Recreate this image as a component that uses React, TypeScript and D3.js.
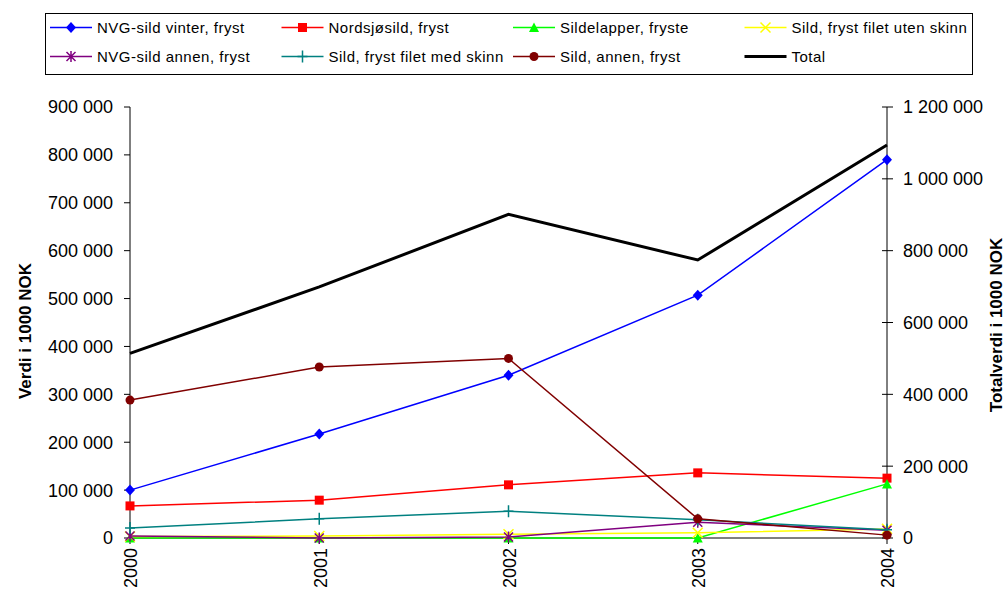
import React from 'react';
import * as d3 from 'd3';

const years = ['2000', '2001', '2002', '2003', '2004'];

const nvgVinter = [100000, 217000, 340000, 507000, 790000];
const nordsjo = [67000, 79000, 111000, 136000, 125000];
const sildelapper = [0, 0, 0, 0, 113000];
const filetUten = [3000, 4000, 8000, 11000, 19000];
const nvgAnnen = [4000, 0, 2000, 33000, 16000];
const filetMed = [21000, 40000, 56000, 38000, 17000];
const sildAnnen = [288000, 357000, 375000, 40000, 6000];
const total = [514000, 699000, 901000, 774000, 1094000];

const leftTicks = [0, 100000, 200000, 300000, 400000, 500000, 600000, 700000, 800000, 900000];
const rightTicks = [0, 200000, 400000, 600000, 800000, 1000000, 1200000];

type Marker = 'diamond' | 'square' | 'triangle' | 'x' | 'star' | 'plus' | 'circle' | 'none';

const series: { name: string; values: number[]; color: string; marker: Marker }[] = [
  { name: 'NVG-sild vinter, fryst', values: nvgVinter, color: '#0000FF', marker: 'diamond' },
  { name: 'Nordsjøsild, fryst', values: nordsjo, color: '#FF0000', marker: 'square' },
  { name: 'Sildelapper, fryste', values: sildelapper, color: '#00FF00', marker: 'triangle' },
  { name: 'Sild, fryst filet uten skinn', values: filetUten, color: '#FFFF00', marker: 'x' },
  { name: 'NVG-sild annen, fryst', values: nvgAnnen, color: '#800080', marker: 'star' },
  { name: 'Sild, fryst filet med skinn', values: filetMed, color: '#008080', marker: 'plus' },
  { name: 'Sild, annen, fryst', values: sildAnnen, color: '#800000', marker: 'circle' },
];

const FONT = 'Arial, "Liberation Sans", sans-serif';
const fmt = (v: number) => d3.format(',')(v).replace(/,/g, ' ');

// marker glyphs, drawn around (x, y)
const MarkerShape = ({ type, color, x, y }: { type: Marker; color: string; x: number; y: number }) => {
  const t = `translate(${x},${y})`;
  switch (type) {
    case 'diamond':
      return <path transform={t} d="M0,-5.5L5,0L0,5.5L-5,0Z" fill={color} />;
    case 'square':
      return <rect transform={t} x={-4.5} y={-4.5} width={9} height={9} fill={color} />;
    case 'triangle':
      return <path transform={t} d="M0,-5L5,4.5L-5,4.5Z" fill={color} />;
    case 'circle':
      return <circle transform={t} r={4.5} fill={color} />;
    case 'x':
      return <path transform={t} d="M-5,-5L5,5M-5,5L5,-5" stroke={color} strokeWidth={1.5} fill="none" />;
    case 'star':
      return <path transform={t} d="M-4.5,-4.5L4.5,4.5M-4.5,4.5L4.5,-4.5M0,-5.5L0,5.5" stroke={color} strokeWidth={1.5} fill="none" />;
    case 'plus':
      return <path transform={t} d="M-5,0L5,0M0,-6L0,6" stroke={color} strokeWidth={1.5} fill="none" />;
    default:
      return null;
  }
};

export default function App() {
  const width = 1006;
  const height = 597;
  const x0 = 130, x1 = 887, yTop = 107, yBot = 538;

  const x = d3.scalePoint<string>().domain(years).range([x0, x1]);
  const yL = d3.scaleLinear().domain([0, 900000]).range([yBot, yTop]);
  const yR = d3.scaleLinear().domain([0, 1200000]).range([yBot, yTop]);

  const lineL = d3.line<number>().x((_, i) => x(years[i])!).y(d => yL(d));
  const lineR = d3.line<number>().x((_, i) => x(years[i])!).y(d => yR(d));

  const legendItems = [
    series[0], series[1], series[2], series[3],
    series[4], series[5], series[6],
    { name: 'Total', values: total, color: '#000000', marker: 'none' as Marker },
  ];

  return (
    <svg width={width} height={height} style={{ position: 'absolute', left: 0, top: 0, background: '#fff' }} fontFamily={FONT}>
      {/* legend */}
      <rect x={45.5} y={13.5} width={927} height={61} fill="#fff" stroke="#000" strokeWidth={1} />
      {legendItems.map((s, i) => {
        const col = i % 4;
        const row = Math.floor(i / 4);
        const lx = 50 + col * 231.5;
        const ly = 27.5 + row * 29;
        return (
          <g key={s.name}>
            <line x1={lx} x2={lx + 42} y1={ly} y2={ly} stroke={s.color} strokeWidth={s.marker === 'none' ? 3 : 1.5} />
            <MarkerShape type={s.marker} color={s.color} x={lx + 21} y={ly} />
            <text x={lx + 47} y={ly} dy="0.35em" fontSize={15} letterSpacing={0.5}>{s.name}</text>
          </g>
        );
      })}

      {/* left axis */}
      <line x1={x0} x2={x0} y1={yTop} y2={yBot} stroke="#000" />
      {leftTicks.map(t => (
        <g key={t}>
          <line x1={x0 - 6} x2={x0} y1={yL(t)} y2={yL(t)} stroke="#000" />
          <text x={x0 - 17} y={yL(t)} dy="0.36em" textAnchor="end" fontSize={18}>{fmt(t)}</text>
        </g>
      ))}
      <text transform="translate(31,331) rotate(-90)" textAnchor="middle" fontSize={17} fontWeight="bold">Verdi i 1000 NOK</text>

      {/* right axis */}
      <line x1={x1} x2={x1} y1={yTop} y2={yBot} stroke="#000" />
      {rightTicks.map(t => (
        <g key={t}>
          <line x1={x1 - 5} x2={x1 + 6} y1={yR(t)} y2={yR(t)} stroke="#000" />
          <text x={x1 + 16} y={yR(t)} dy="0.36em" textAnchor="start" fontSize={18}>{fmt(t)}</text>
        </g>
      ))}
      <text transform="translate(1002,325) rotate(-90)" textAnchor="middle" fontSize={17} fontWeight="bold">Totalverdi i 1000 NOK</text>

      {/* x axis */}
      <line x1={x0} x2={x1} y1={yBot} y2={yBot} stroke="#000" />
      {years.map(yr => (
        <g key={yr}>
          <line x1={x(yr)!} x2={x(yr)!} y1={yBot} y2={yBot + 6} stroke="#000" />
          <text transform={`translate(${x(yr)! + 1},${yBot + 10}) rotate(-90)`} textAnchor="end" dy="0.36em" fontSize={18}>{yr}</text>
        </g>
      ))}

      {/* series */}
      {series.map(s => (
        <g key={s.name}>
          <path d={lineL(s.values)!} fill="none" stroke={s.color} strokeWidth={1.5} />
          {s.values.map((v, i) => (
            <MarkerShape key={i} type={s.marker} color={s.color} x={x(years[i])!} y={yL(v)} />
          ))}
        </g>
      ))}
      <path d={lineR(total)!} fill="none" stroke="#000" strokeWidth={3} />
    </svg>
  );
}
